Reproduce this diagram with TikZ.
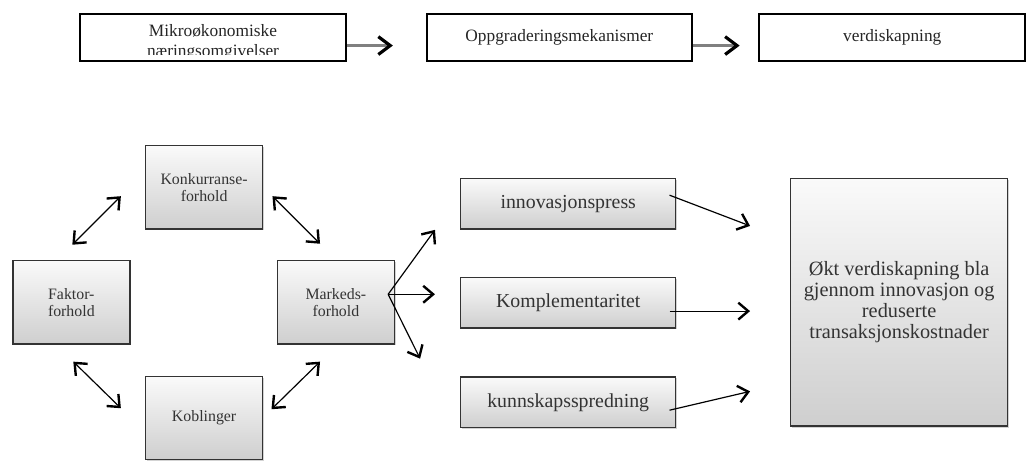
\documentclass[tikz,border=0pt]{standalone}
\usepackage{fontspec}
\setmainfont{Liberation Serif}
\usetikzlibrary{arrows.meta,shadows}

\begin{document}
\begin{tikzpicture}[x=1pt,y=-1pt,>={Straight Barb[length=10pt,width=17pt,line width=2.4pt]},
		topbox/.style={draw,line width=2pt,fill=white,minimum width=268pt,minimum height=48pt,inner sep=0pt,text=black!85,font=\fontsize{17.5}{20}\selectfont},
		toptext/.style={anchor=base,inner sep=0pt,text=black!85,font=\fontsize{17.5}{20}\selectfont},
		box/.style={draw=black!80,line width=1.5pt,top color=gray!4,bottom color=gray!38,drop shadow={shadow xshift=1.5pt,shadow yshift=-1.5pt,opacity=0.35},inner sep=0pt,align=center,text=black!80},
		smallbox/.style={box,minimum width=118pt,minimum height=84pt,font=\fontsize{16}{17}\selectfont},
		midbox/.style={box,minimum width=217pt,minimum height=51pt,font=\fontsize{20}{21}\selectfont},
		toparrow/.style={->,line width=3pt,draw=gray,>={Straight Barb[length=12pt,width=18pt,line width=3.2pt,color=black]}},
		arr/.style={line width=1.2pt}]
			\path[fill=white] (0,0) rectangle (1026,461);
			% top row
			\node[topbox] (mikro) at (215,38) {};
			\node[topbox] (oppgr) at (564.5,38) {Oppgraderingsmekanismer};
			\node[topbox] (verdi) at (900.5,38) {verdiskapning};
			\begin{scope}
				\clip (82,14) rectangle (348,55.5);
				\node[toptext] (mikro1) at (215,37) {Mikroøkonomiske};
				\node[toptext] (mikro2) at (215,57) {næringsomgivelser};
			\end{scope}
			\draw[toparrow,shorten >=33pt] ([yshift=-8pt]mikro.east) -- ([yshift=-8pt]oppgr.west);
			\draw[toparrow,shorten >=19pt] ([yshift=-8pt]oppgr.east) -- ([yshift=-8pt]verdi.west);
			% diamond of boxes
			\node[smallbox] (konk) at (206,189) {Konkurranse-\\forhold};
			\node[smallbox] (faktor) at (72,305) {Faktor-\\forhold};
			\node[smallbox] (marked) at (339,305) {Markeds-\\forhold};
			\node[smallbox] (kobl) at (206,422) {Koblinger};
			\coordinate (fk1) at (73,247); \coordinate (fk2) at (122,198);
			\coordinate (km1) at (275,198); \coordinate (km2) at (323,246);
			\coordinate (fb1) at (74,365); \coordinate (fb2) at (122,412);
			\coordinate (bm1) at (274,413); \coordinate (bm2) at (323,365);
			\draw[arr,<->] (fk1) -- (fk2);
			\draw[arr,<->] (km1) -- (km2);
			\draw[arr,<->] (fb1) -- (fb2);
			\draw[arr,<->] (bm1) -- (bm2);
			% mechanisms
			\node[midbox] (innov) at (573.5,205.5) {innovasjonspress};
			\node[midbox] (kompl) at (573.5,305.5) {Komplementaritet};
			\node[midbox] (kunn) at (573.5,406) {kunnskapsspredning};
			\coordinate (m1) at (439,232); \coordinate (m2) at (439,297); \coordinate (m3) at (424,362);
			\foreach \t in {m1,m2,m3}
				\draw[arr,->] ([shift={(-7,-8)}]marked.east) -- (\t);
			% result
			\node[box,minimum width=219pt,minimum height=250pt,font=\fontsize{20.5}{21}\selectfont] (okt) at (907.5,305) {Økt verdiskapning bla\\gjennom innovasjon og\\reduserte\\transaksjonskostnader};
			\coordinate (r1) at (757,228); \coordinate (r2) at (757,314); \coordinate (r3) at (757,395);
			\draw[arr,->] ([shift={(-7,-8.5)}]innov.east) -- (r1);
			\draw[arr,->] ([shift={(-7,8.5)}]kompl.east) -- (r2);
			\draw[arr,->] ([shift={(-7,8)}]kunn.east) -- (r3);
		\end{tikzpicture}
\end{document}
